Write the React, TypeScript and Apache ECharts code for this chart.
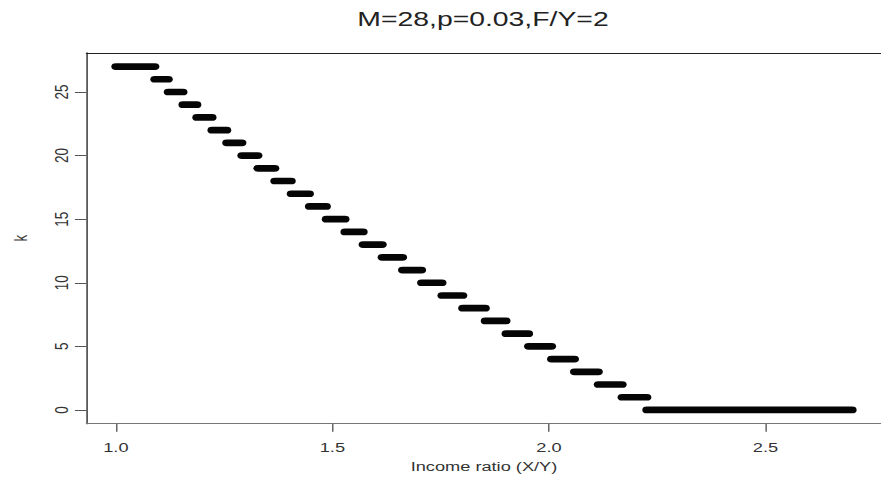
import React, { useEffect, useRef } from "react";
import * as echarts from "echarts";

// ---- data ----
const TITLE = "M=28,p=0.03,F/Y=2";
const X_NAME = "Income ratio (X/Y)";
const Y_NAME = "k";
const kValues = [27, 26, 25, 24, 23, 22, 21, 20, 19, 18, 17, 16, 15, 14, 13, 12, 11, 10, 9, 8, 7, 6, 5, 4, 3, 2, 1, 0];
// x where each k level begins (income ratio)
const stepStart = [
  1.0, 1.09, 1.121, 1.155, 1.187, 1.222, 1.256, 1.291, 1.328, 1.367, 1.405, 1.447, 1.486, 1.529,
  1.571, 1.615, 1.662, 1.706, 1.753, 1.801, 1.853, 1.901, 1.953, 2.006, 2.059, 2.114, 2.169, 2.226,
];
const lastX = 2.7;
const xTicks = [1.0, 1.5, 2.0, 2.5];
const yTicks = [0, 5, 10, 15, 20, 25];

// the reference picture is stretched horizontally
const STRETCH = 1.35;
const W = 881;
const H = 482;
const WU = W / STRETCH;
const FONT = "'Liberation Sans', Arial, Helvetica, sans-serif";

export default function App() {
  const ref = useRef<HTMLDivElement>(null);
  useEffect(() => {
    document.body.style.margin = "0";
    document.body.style.overflow = "hidden";
    if (!ref.current) return;
    const chart = echarts.init(ref.current, undefined, { renderer: "svg" });
    const segments = kValues.map((k, i) => [
      stepStart[i],
      i + 1 < kValues.length ? stepStart[i + 1] : lastX,
      k,
    ]);
    const xMin = 0.932;
    const xMax = 2.768;
    const gridLeft = 83 / STRETCH;
    const gridRightPx = 890.6 / STRETCH;
    chart.setOption({
      animation: false,
      backgroundColor: "#fff",
      title: {
        text: TITLE,
        left: 483 / STRETCH - 5,
        top: 3,
        textAlign: "center",
        textVerticalAlign: "top",
        textStyle: { fontSize: 21, fontWeight: "normal", color: "#222", fontFamily: FONT },
      },
      grid: {
        left: gridLeft,
        right: WU - gridRightPx,
        top: 52.8,
        bottom: H - 423.7,
        show: false,
      },
      xAxis: [
        {
          type: "value",
          position: "bottom",
          min: xMin,
          max: xMax,
          name: X_NAME,
          nameLocation: "middle",
          nameGap: 34.5,
          nameTextStyle: { fontSize: 13.5, color: "#333", fontFamily: FONT },
          axisLine: { show: true, onZero: false, lineStyle: { color: "#777", width: 1 } },
          axisTick: { show: true, length: 8, customValues: xTicks, lineStyle: { color: "#555" } },
          axisLabel: {
            customValues: xTicks,
            formatter: (v: number) => v.toFixed(1),
            margin: 16,
            fontSize: 13.5,
            color: "#333",
            fontFamily: FONT,
          },
          splitLine: { show: false },
        },
        {
          type: "value",
          position: "top",
          min: xMin,
          max: xMax,
          axisLine: { show: true, onZero: false, lineStyle: { color: "#222", width: 1 } },
          axisTick: { show: false },
          axisLabel: { show: false },
          splitLine: { show: false },
        },
      ],
      yAxis: {
        type: "value",
        min: -1.08,
        max: 28.08,
        name: Y_NAME,
        nameLocation: "middle",
        nameRotate: 90,
        nameGap: 42,
        nameTextStyle: { fontSize: 13.5, color: "#333", fontFamily: FONT },
        axisLine: { show: true, onZero: false, lineStyle: { color: "#222", width: 1 } },
        axisTick: { show: true, length: 8.5, customValues: yTicks, lineStyle: { color: "#555" } },
        axisLabel: {
          customValues: yTicks,
          rotate: 90,
          margin: 11.5,
          fontSize: 13.5,
          color: "#333",
          fontFamily: FONT,
        },
        splitLine: { show: false },
      },
      series: [
        {
          type: "custom",
          coordinateSystem: "cartesian2d",
          xAxisIndex: 0,
          encode: { x: [0, 1], y: 2 },
          clip: false,
          renderItem: (_params: any, api: any) => {
            const a = api.coord([api.value(0), api.value(2)]);
            const b = api.coord([api.value(1), api.value(2)]);
            return {
              type: "line",
              shape: { x1: a[0], y1: a[1], x2: b[0], y2: b[1] },
              style: { stroke: "#050505", lineWidth: 6.7, lineCap: "round" },
            };
          },
          data: segments,
        },
      ],
    });
    return () => chart.dispose();
  }, []);
  return (
    <div
      ref={ref}
      style={{
        width: WU + "px",
        height: H + "px",
        transform: `scaleX(${STRETCH})`,
        transformOrigin: "0 0",
      }}
    />
  );
}
